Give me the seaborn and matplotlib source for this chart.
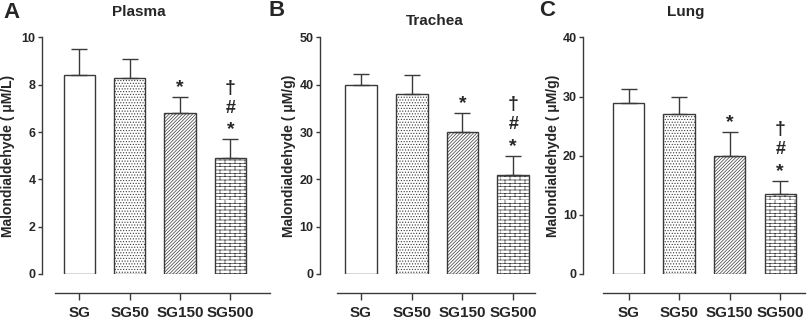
import numpy as np
import pandas as pd
import matplotlib
matplotlib.use('Agg')
import matplotlib.pyplot as plt
import matplotlib.hatch as mhatch
from matplotlib.path import Path
import seaborn as sns

# ------------------------
# Data
# ------------------------
groups = ['SG', 'SG50', 'SG150', 'SG500']

plasma_mean = [8.4, 8.3, 6.8, 4.9]
plasma_err = [1.1, 0.8, 0.7, 0.8]

trachea_mean = [40, 38, 30, 21]
trachea_err = [2.3, 4, 4, 4]

lung_mean = [29, 27, 20, 13.6]
lung_err = [2.3, 3, 4, 2.2]

titles = ['Plasma', 'Trachea', 'Lung']
letters = ['A', 'B', 'C']
ylabels = ['Malondialdehyde ( \u03bcM/L)', 'Malondialdehyde ( \u03bcM/g)', 'Malondialdehyde ( \u03bcM/g)']
yticks = [[0, 2, 4, 6, 8, 10], [0, 10, 20, 30, 40, 50], [0, 10, 20, 30, 40]]


# ------------------------
# Brick hatch (matplotlib has none built in)
# ------------------------
class BrickHatch(mhatch.HatchPatternBase):
    def __init__(self, hatch, density):
        self.rows = hatch.count('b') * density
        self.cols = self.rows // 3
        self.num_vertices = self.rows * 2 + self.rows * self.cols * 2

    def set_vertices_and_codes(self, vertices, codes):
        n = 0
        h = 1.0 / self.rows
        for r in range(self.rows):
            y = r * h
            vertices[n] = (0.0, y)
            vertices[n + 1] = (1.0, y)
            codes[n], codes[n + 1] = Path.MOVETO, Path.LINETO
            n += 2
        w = 1.0 / self.cols
        for r in range(self.rows):
            y = r * h
            shift = 0.5 * w if r % 2 else 0.0
            for c in range(self.cols):
                x = c * w + shift
                vertices[n] = (x, y)
                vertices[n + 1] = (x, y + h)
                codes[n], codes[n + 1] = Path.MOVETO, Path.LINETO
                n += 2


mhatch._hatch_types.append(BrickHatch)
mhatch._validate_hatch_pattern = lambda hatch: None

hatches = ['', '......', '//////////', 'bbbbb']

# ------------------------
# Style
# ------------------------
sns.set_style('ticks')
plt.rcParams['font.family'] = ['Liberation Sans', 'DejaVu Sans']
plt.rcParams['font.weight'] = 'bold'
plt.rcParams['hatch.linewidth'] = 0.5
dark = '#3a3a3a'

W, H = 809, 323
fig = plt.figure(figsize=(W / 100, H / 100), dpi=100)

# panel geometry in pixels: axis left, axis right, xlim, spine bounds
panel_px = [(42, 270), (320, 535), (583, 805)]
panel_xlim = [(-0.746, 3.79), (-0.81, 3.43), (-0.9, 3.49)]
spine_bounds = [(-0.49, 3.79), (-0.47, 3.43), (-0.5, 3.49)]
ylabel_off = [-27, -24.5, -23]
title_pos = [(139, 12), (435, 21), (686, 12)]
letter_pos = [(11, 13), (277, 11), (547, 11)]

means = [plasma_mean, trachea_mean, lung_mean]
errs = [plasma_err, trachea_err, lung_err]

y_top, y_bot = 37.5, 274

for i in range(3):
    left, right = panel_px[i]
    ax = fig.add_axes([left / W, (H - y_bot) / H, (right - left) / W, (y_bot - y_top) / H])
    df = pd.DataFrame({'group': groups, 'mean': means[i], 'err': errs[i]})

    sns.barplot(data=df, x='group', y='mean', ax=ax, color='white', saturation=1,
                edgecolor=dark, linewidth=1, width=0.62, errorbar=None)
    for patch, h in zip(ax.patches, hatches):
        patch.set_hatch(h)

    xs = np.arange(len(groups))
    ax.errorbar(xs, df['mean'], yerr=[np.zeros(len(groups)), df['err']], fmt='none',
                ecolor=dark, elinewidth=1, capsize=5.5, capthick=1)

    # significance marks above the error bars
    tops = df['mean'] + df['err']
    ax.annotate('*', (2, tops[2]), xytext=(0, 1), textcoords='offset pixels',
                ha='center', va='bottom', fontsize=14, fontweight='bold')
    ax.annotate('*', (3, tops[3]), xytext=(0, 1), textcoords='offset pixels',
                ha='center', va='bottom', fontsize=14, fontweight='bold')
    ax.annotate('#', (3, tops[3]), xytext=(0, 31), textcoords='offset pixels',
                ha='center', va='center', fontsize=13, fontweight='bold')
    ax.annotate('\u2020', (3, tops[3]), xytext=(0, 51), textcoords='offset pixels',
                ha='center', va='center', fontsize=14, fontweight='bold')

    ax.set_xlim(*panel_xlim[i])
    ax.set_ylim(0, yticks[i][-1])
    ax.set_yticks(yticks[i])
    ax.set_xlabel('')
    ax.set_ylabel(ylabels[i], fontsize=10, fontweight='bold')
    ax.yaxis.set_label_coords(ylabel_off[i] / (right - left), 0.5)

    sns.despine(ax=ax)
    ax.spines['bottom'].set_position(('outward', 13.7))
    ax.spines['bottom'].set_bounds(*spine_bounds[i])
    for s in ['left', 'bottom']:
        ax.spines[s].set_color(dark)
        ax.spines[s].set_linewidth(1)
    ax.tick_params(axis='y', length=3, width=1, color=dark, labelsize=9, pad=1.5)
    ax.tick_params(axis='x', length=5, width=1, color=dark, labelsize=11, pad=4)
    for lab in ax.get_xticklabels() + ax.get_yticklabels():
        lab.set_fontweight('bold')

    fig.text(title_pos[i][0] / W, 1 - title_pos[i][1] / H, titles[i],
             ha='center', va='center', fontsize=11, fontweight='bold')
    fig.text(letter_pos[i][0] / W, 1 - letter_pos[i][1] / H, letters[i],
             ha='center', va='center', fontsize=16, fontweight='bold')

fig.savefig('out.png', dpi=100)
